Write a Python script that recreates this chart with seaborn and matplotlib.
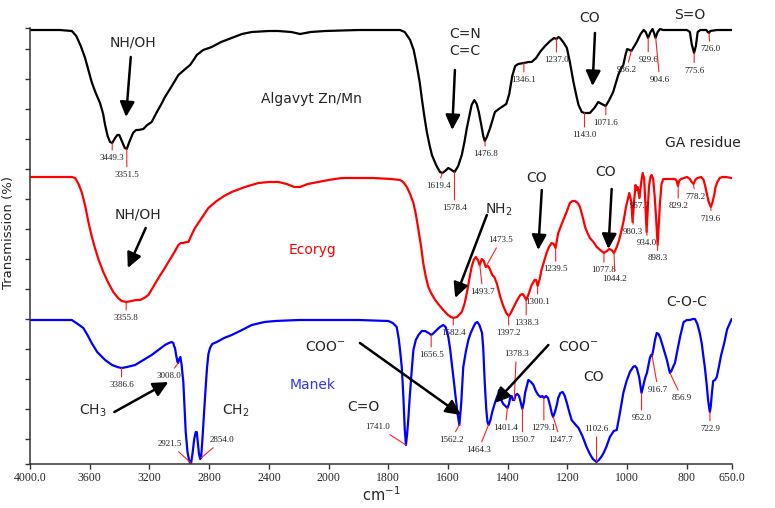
import numpy as np
import matplotlib
matplotlib.use('Agg')
import matplotlib.pyplot as plt
import seaborn as sns

# x axis (cm-1), scale is halved above 2000 like the instrument plot
x_ticks = [4000, 3600, 3200, 2800, 2400, 2000, 1800, 1600, 1400, 1200, 1000, 800, 650]
x_tick_labels = ['4000.0', '3600', '3200', '2800', '2400', '2000', '1800', '1600',
                 '1400', '1200', '1000', '800', '650.0']
y_ticks = [0, 25, 55, 85, 115, 145, 175, 205, 235, 265, 295, 325, 355, 385, 415, 436]

# spectra: wavenumber / transmission (stacked, arbitrary units)
algavyt_wn = [4000, 3800, 3720, 3690, 3660, 3631, 3609, 3587, 3560, 3531, 3510, 3497, 3480, 3464,
              3449, 3430, 3415, 3402, 3385, 3365, 3352, 3335, 3310, 3290, 3274, 3241, 3215, 3185,
              3150, 3120, 3096, 3050, 3006, 2960, 2928, 2900, 2883, 2840, 2783, 2720, 2649, 2580,
              2515, 2400, 2338, 2250, 2191, 2120, 2024, 1900, 1811, 1761, 1745, 1727, 1715, 1705,
              1695, 1688, 1680, 1671, 1662, 1654, 1640, 1627, 1619, 1610, 1599, 1588, 1578, 1566,
              1554, 1545, 1537, 1528, 1521, 1512, 1504, 1497, 1488, 1482, 1477, 1470, 1459, 1450,
              1443, 1430, 1420, 1405, 1395, 1385, 1375, 1365, 1346, 1330, 1320, 1305, 1292, 1275,
              1258, 1245, 1237, 1230, 1225, 1212, 1202, 1192, 1180, 1170, 1163, 1152, 1143, 1125,
              1110, 1097, 1085, 1072, 1060, 1047, 1038, 1030, 1020, 1013, 1005, 1000, 992, 986,
              978, 968, 955, 945, 938, 930, 922, 915, 910, 905, 898, 890, 880, 800, 790, 784,
              776, 770, 764, 755, 735, 730, 726, 722, 700, 650]
algavyt_t = [434, 434, 433, 428, 418, 406, 394, 382, 371, 361, 350, 339, 328, 322,
             321, 326, 329, 329, 323, 316, 315, 322, 331, 334, 334, 335, 339, 342,
             352, 360, 367, 378, 389, 395, 399, 405, 409, 414, 417, 422, 426, 430,
             432, 433, 433, 432, 430, 432, 433, 434, 434, 434, 432, 424, 414, 399,
             382, 366, 349, 332, 319, 309, 299, 292, 291, 293, 296, 294, 292, 298,
             309, 322, 336, 349, 359, 364, 360, 352, 338, 328, 323, 327, 336, 345,
             352, 355, 357, 360, 370, 388, 398, 400, 401, 402, 402, 406, 412, 418,
             423, 426, 425, 427, 426, 421, 416, 402, 382, 368, 359, 352, 351, 351,
             356, 362, 360, 358, 364, 372, 381, 389, 396, 399, 410, 415, 414, 413,
             417, 422, 430, 434, 432, 426, 432, 435, 431, 426, 432, 435, 434, 434, 432, 420,
             411, 418, 432, 434, 434, 432, 431, 433, 434, 434]

ecoryg_wn = [4000, 3720, 3698, 3675, 3654, 3630, 3609, 3587, 3565, 3540, 3509, 3475, 3442, 3410,
             3386, 3356, 3320, 3290, 3263, 3235, 3207, 3175, 3140, 3105, 3073, 3040, 3006, 2990,
             2973, 2955, 2939, 2915, 2895, 2850, 2805, 2750, 2700, 2649, 2560, 2470, 2400, 2336,
             2280, 2230, 2191, 2140, 2068, 2000, 1956, 1850, 1790, 1761, 1750, 1738, 1727, 1716,
             1708, 1699, 1690, 1683, 1675, 1666, 1655, 1643, 1630, 1616, 1600, 1590, 1582, 1570,
             1554, 1545, 1537, 1528, 1521, 1514, 1507, 1500, 1494, 1487, 1480, 1474, 1466, 1460,
             1452, 1445, 1436, 1425, 1415, 1405, 1397, 1390, 1380, 1370, 1358, 1350, 1345, 1338,
             1330, 1320, 1310, 1305, 1300, 1293, 1287, 1278, 1270, 1262, 1253, 1246, 1240, 1235,
             1231, 1222, 1214, 1203, 1192, 1183, 1175, 1166, 1158, 1150, 1141, 1133, 1125, 1113,
             1102, 1090, 1078, 1068, 1060, 1052, 1044, 1035, 1028, 1021, 1012, 1004, 993, 986,
             982, 977, 972, 968, 965, 959, 953, 948, 943, 939, 935, 931, 927, 922, 918, 913,
             908, 903, 898, 894, 890, 885, 879, 870, 850, 840, 834, 830, 826, 820, 800, 790,
             784, 778, 772, 765, 752, 744, 738, 733, 728, 720, 714, 708, 704, 698, 690, 682,
             670, 650]
ecoryg_t = [287, 287, 286, 280, 272, 258, 242, 228, 216, 204, 192, 181, 172, 166,
            163, 162, 163, 164, 164, 166, 169, 177, 186, 194, 202, 210, 219, 221,
            221, 222, 222, 230, 236, 246, 256, 263, 268, 272, 277, 281, 282, 282,
            280, 277, 277, 280, 282, 284, 286, 286, 285, 284, 282, 277, 270, 261,
            250, 234, 217, 201, 188, 177, 170, 164, 159, 154, 149, 147, 146, 147,
            152, 160, 171, 186, 197, 204, 207, 204, 199, 205, 203, 197, 198, 195,
            189, 187, 180, 167, 158, 151, 148, 151, 157, 163, 169, 170, 168, 164,
            170, 179, 184, 184, 178, 185, 194, 203, 211, 217, 221, 220, 216, 224,
            231, 238, 244, 252, 261, 263, 263, 261, 257, 248, 237, 231, 226, 222,
            217, 214, 211, 213, 215, 214, 211, 217, 223, 231, 243, 257, 271, 262,
            242, 262, 279, 274, 277, 266, 282, 291, 285, 260, 232, 255, 278, 287, 289, 285,
            268, 245, 219, 240, 262, 280, 285, 285, 285, 285, 283, 278, 283, 285, 287, 285,
            282, 280, 284, 286, 287, 284, 277, 270, 263, 257, 262, 270, 277, 282, 286, 287,
            287, 286]

manek_wn = [4000, 3720, 3710, 3680, 3643, 3615, 3587, 3550, 3497, 3450, 3415, 3387, 3350, 3296,
            3240, 3185, 3140, 3096, 3070, 3051, 3040, 3035, 3029, 3020, 3012, 3008, 3000, 2993,
            2985, 2980, 2973, 2965, 2957, 2945, 2935, 2928, 2921, 2912, 2900, 2890, 2883, 2876,
            2868, 2860, 2854, 2845, 2835, 2828, 2815, 2805, 2794, 2780, 2749, 2700, 2649, 2580,
            2515, 2430, 2358, 2200, 1900, 1800, 1785, 1772, 1765, 1760, 1755, 1750, 1745, 1741,
            1737, 1733, 1729, 1722, 1716, 1708, 1699, 1688, 1677, 1665, 1656, 1648, 1638, 1627,
            1616, 1608, 1599, 1593, 1588, 1582, 1575, 1568, 1562, 1556, 1549, 1540, 1532, 1524,
            1515, 1508, 1502, 1495, 1486, 1482, 1477, 1472, 1468, 1464, 1458, 1452, 1443, 1436,
            1432, 1429, 1426, 1422, 1415, 1408, 1401, 1396, 1392, 1387, 1383, 1378, 1374, 1368,
            1362, 1357, 1351, 1346, 1342, 1336, 1331, 1322, 1314, 1306, 1298, 1290, 1284, 1279,
            1272, 1265, 1258, 1252, 1248, 1242, 1235, 1231, 1224, 1216, 1209, 1202, 1194, 1186,
            1175, 1163, 1150, 1136, 1125, 1115, 1103, 1095, 1087, 1079, 1070, 1058, 1045, 1035,
            1025, 1013, 1002, 991, 980, 974, 968, 960, 955, 952, 947, 940, 934, 928, 924, 920,
            917, 912, 907, 901, 895, 889, 884, 875, 867, 860, 857, 852, 845, 840, 833, 823,
            815, 811, 800, 790, 780, 773, 765, 757, 750, 745, 740, 734, 729, 725, 723, 720,
            716, 712, 706, 700, 693, 686, 675, 665, 650]
manek_t = [144, 144, 143, 140, 136, 129, 121, 112, 104, 99, 97, 96, 97, 99,
           104, 109, 114, 119, 121, 122, 121, 118, 116, 108, 102, 101, 105, 107,
           100, 92, 82, 58, 32, 12, 4, 1, 1, 10, 25, 32, 32, 22,
           10, 5, 6, 25, 50, 66, 95, 110, 116, 120, 122, 126, 129, 134,
           139, 142, 143, 144, 144, 143, 141, 137, 125, 112, 97, 70, 35, 19,
           30, 45, 64, 92, 114, 124, 129, 133, 133, 131, 129, 131, 134, 137,
           139, 137, 127, 115, 102, 87, 68, 50, 39, 60, 97, 113, 124, 131,
           137, 141, 142, 139, 131, 115, 81, 55, 42, 39, 44, 52, 61, 67,
           70, 74, 68, 64, 60, 58, 56, 60, 66, 68, 64, 64, 69, 70,
           68, 62, 55, 62, 71, 78, 84, 82, 79, 73, 69, 67, 68, 66,
           68, 66, 58, 50, 47, 52, 60, 66, 71, 72, 68, 61, 52, 44,
           40, 36, 28, 17, 10, 5, 2, 4, 7, 11, 17, 27, 33, 34,
           50, 71, 83, 92, 97, 98, 96, 87, 77, 71, 77, 86, 91, 100, 106, 109,
           108, 115, 124, 131, 130, 126, 121, 112, 104, 95, 91, 93, 98, 101, 112, 127,
           137, 142, 144, 144, 145, 145, 140, 131, 120, 108, 97, 80, 64, 55, 52, 58,
           72, 83, 84, 87, 97, 108, 121, 135, 145]

# labelled peaks
algavyt_peaks = [3449.3, 3351.5, 1619.4, 1578.4, 1476.8, 1346.1, 1237.0, 1143.0, 1071.6,
                 986.2, 929.6, 904.6, 775.6, 726.0]
ecoryg_peaks = [3355.8, 1582.4, 1493.7, 1473.5, 1397.2, 1338.3, 1300.1, 1239.5, 1077.8,
                1044.2, 980.3, 957.7, 934.0, 898.3, 829.2, 778.2, 719.6]
manek_peaks = [3386.6, 3008.0, 2921.5, 2854.0, 1741.0, 1656.5, 1562.2, 1464.3, 1401.4,
               1378.3, 1350.7, 1279.1, 1247.7, 1102.6, 952.0, 916.7, 856.9, 722.9]

# label offsets from the peak, in pixels
algavyt_off = [(0, -15), (0, -26), (-4, -13), (0, -36), (1, -13), (0, -17), (0, -21), (0, -22),
               (0, -17), (-5, -19), (0, -22), (4, -42), (0, -18), (1, -16)]
ecoryg_off = [(0, -16), (0, -15), (3, -27), (15, 27), (0, -17), (0, -23), (0, -16), (0, -22),
              (0, -17), (1, -26), (0, -17), (0, -11), (0, -17), (0, -15), (0, -21), (2, -13),
              (0, -12)]
manek_off = [(0, -17), (-9, -13), (-21, 19), (21, 18), (-28, 18), (0, -20), (-8, -15),
             (-10, -25), (-2, -20), (2, 46), (0, -31), (0, -30), (7, -23), (0, 33), (0, -25),
             (6, -34), (12, -25), (0, -17)]


def fwd(x):
    x = np.asarray(x, dtype=float)
    return np.where(x > 2000, 2000 + (x - 2000) / 2, x)


def inv(u):
    u = np.asarray(u, dtype=float)
    return np.where(u > 2000, 2000 + (u - 2000) * 2, u)


def label_peaks(ax, wn, t, peaks, offsets):
    xs = np.array(wn[::-1], dtype=float)
    ys = np.array(t[::-1], dtype=float)
    for p, (dx, dy) in zip(peaks, offsets):
        h = np.interp(p, xs, ys)
        ax.annotate(f'{p:.1f}', xy=(p, h), xytext=(dx, dy), textcoords='offset pixels',
                    ha='center', va='center', fontsize=6.5, color='#222222',
                    family='Liberation Serif',
                    arrowprops=dict(arrowstyle='-', color='#ff2020', lw=0.8,
                                    shrinkA=0.5, shrinkB=0))


def arrow(ax, tail, head):
    ax.annotate('', xy=head, xytext=tail,
                arrowprops=dict(arrowstyle='-|>,head_length=0.45,head_width=0.22',
                                color='black', lw=1.8, mutation_scale=20,
                                shrinkA=0, shrinkB=0))


sns.set_style('ticks')
plt.rcParams['font.family'] = ['DejaVu Sans']

fig = plt.figure(figsize=(7.75, 5.08), dpi=100)
ax = fig.add_axes([30 / 775, 44 / 508, 701.7 / 775, 436 / 508])

sns.lineplot(x=algavyt_wn, y=algavyt_t, sort=False, estimator=None, color='black', lw=1.6, ax=ax)
sns.lineplot(x=ecoryg_wn, y=ecoryg_t, sort=False, estimator=None, color='#ff0000', lw=1.6, ax=ax)
sns.lineplot(x=manek_wn, y=manek_t, sort=False, estimator=None, color='#0000ff', lw=1.6, ax=ax)

ax.set_xscale('function', functions=(fwd, inv))
ax.set_xlim(4000, 650)
ax.set_ylim(0, 436)
ax.set_xticks(x_ticks)
ax.set_xticklabels(x_tick_labels, family='Liberation Serif', fontsize=8.5)
ax.minorticks_off()
ax.set_yticks(y_ticks)
ax.set_yticklabels([])
ax.tick_params(direction='out', length=3.5, width=1, color='#333333', pad=2)
sns.despine(ax=ax)
for s in ['left', 'bottom']:
    ax.spines[s].set_color('#333333')
    ax.spines[s].set_linewidth(1.1)

ax.set_xlabel('cm$^{-1}$', fontsize=10.5, labelpad=1)
ax.set_ylabel('Transmission (%)', fontsize=9.5)
ax.yaxis.set_label_coords(-0.021, 0.53)

label_peaks(ax, algavyt_wn, algavyt_t, algavyt_peaks, algavyt_off)
label_peaks(ax, ecoryg_wn, ecoryg_t, ecoryg_peaks, ecoryg_off)
label_peaks(ax, manek_wn, manek_t, manek_peaks, manek_off)

# group assignments
fs = 10
ax.text(3310, 421, 'NH/OH', ha='center', va='center', fontsize=fs)
ax.text(2117, 365, 'Algavyt Zn/Mn', ha='center', va='center', fontsize=fs)
ax.text(1543, 421.5, 'C=N\nC=C', ha='center', va='center', fontsize=fs, linespacing=1.3)
ax.text(1127, 446, 'CO', ha='center', va='center', fontsize=fs)
ax.text(792, 449, 'S=O', ha='center', va='center', fontsize=fs)
ax.text(747, 321, 'GA residue', ha='center', va='center', fontsize=fs)
ax.text(3278, 250, 'NH/OH', ha='center', va='center', fontsize=fs)
ax.text(2109, 214, 'Ecoryg', ha='center', va='center', fontsize=fs, color='#ff0000')
ax.text(1431, 254, 'NH$_2$', ha='center', va='center', fontsize=fs)
ax.text(1303, 286, 'CO', ha='center', va='center', fontsize=fs)
ax.text(1074, 292, 'CO', ha='center', va='center', fontsize=fs)
ax.text(2109, 79, 'Manek', ha='center', va='center', fontsize=fs, color='#3333ee')
ax.text(3576, 53, 'CH$_3$', ha='center', va='center', fontsize=fs)
ax.text(2622, 53, 'CH$_2$', ha='center', va='center', fontsize=fs)
ax.text(2024, 117, 'COO$^{-}$', ha='center', va='center', fontsize=fs)
ax.text(1883, 57, 'C=O', ha='center', va='center', fontsize=fs)
ax.text(1164, 117, 'COO$^{-}$', ha='center', va='center', fontsize=fs)
ax.text(1113, 87, 'CO', ha='center', va='center', fontsize=fs)
ax.text(801, 162, 'C-O-C', ha='center', va='center', fontsize=fs)

arrow(ax, (3325, 407), (3357, 347))
arrow(ax, (1577, 394), (1586, 334))
arrow(ax, (1108, 431), (1116, 378))
arrow(ax, (3225, 236), (3345, 196))
arrow(ax, (1470, 249), (1576, 166))
arrow(ax, (1286, 274), (1298, 214))
arrow(ax, (1052, 275), (1063, 215))
arrow(ax, (3435, 52), (3073, 82))
arrow(ax, (1895, 121), (1557, 49))
arrow(ax, (1264, 119), (1443, 61))

fig.savefig('out.png', dpi=100)
